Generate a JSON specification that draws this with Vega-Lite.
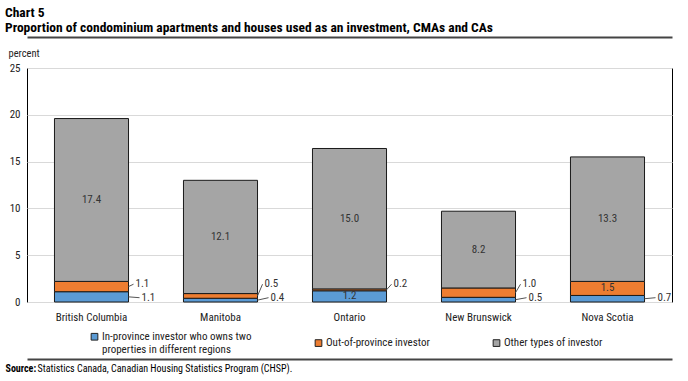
{
  "$schema": "https://vega.github.io/schema/vega-lite/v6.json",
  "width": 645,
  "height": 234,
  "autosize": "none",
  "padding": {"left": 27, "top": 68, "right": 16, "bottom": 79},
  "background": "white",
  "config": {
    "font": "Liberation Sans Narrow, Roboto Condensed, DejaVu Sans Condensed, sans-serif",
    "view": {"stroke": "#000", "strokeWidth": 1}
  },
  "title": {
    "text": ["Chart 5", "Proportion of condominium apartments and houses used as an investment, CMAs and CAs"],
    "anchor": "start",
    "frame": "group",
    "dx": -22,
    "offset": 3,
    "fontSize": 13.5,
    "fontWeight": "bold",
    "lineHeight": 15,
    "color": "#000"
  },
  "data": {
    "values": [
      {"province": "British Columbia", "investor": "In-province investor who owns two properties in different regions", "value": 1.1},
      {"province": "British Columbia", "investor": "Out-of-province investor", "value": 1.1},
      {"province": "British Columbia", "investor": "Other types of investor", "value": 17.4},
      {"province": "Manitoba", "investor": "In-province investor who owns two properties in different regions", "value": 0.4},
      {"province": "Manitoba", "investor": "Out-of-province investor", "value": 0.5},
      {"province": "Manitoba", "investor": "Other types of investor", "value": 12.1},
      {"province": "Ontario", "investor": "In-province investor who owns two properties in different regions", "value": 1.2},
      {"province": "Ontario", "investor": "Out-of-province investor", "value": 0.2},
      {"province": "Ontario", "investor": "Other types of investor", "value": 15.0},
      {"province": "New Brunswick", "investor": "In-province investor who owns two properties in different regions", "value": 0.5},
      {"province": "New Brunswick", "investor": "Out-of-province investor", "value": 1.0},
      {"province": "New Brunswick", "investor": "Other types of investor", "value": 8.2},
      {"province": "Nova Scotia", "investor": "In-province investor who owns two properties in different regions", "value": 0.7},
      {"province": "Nova Scotia", "investor": "Out-of-province investor", "value": 1.5},
      {"province": "Nova Scotia", "investor": "Other types of investor", "value": 13.3}
    ]
  },
  "transform": [
    {"calculate": "indexof(['In-province investor who owns two properties in different regions','Out-of-province investor','Other types of investor'], datum.investor)", "as": "ord"},
    {"stack": "value", "groupby": ["province"], "sort": [{"field": "ord", "order": "ascending"}], "as": ["y0", "y1"]},
    {"calculate": "(datum.y0 + datum.y1) / 2", "as": "mid"},
    {"calculate": "datum.value >= 1.2 ? 'in' : 'out'", "as": "place"},
    {"calculate": "datum.ord == 0 ? 0.46 : 1.9", "as": "outY"}
  ],
  "resolve": {"axis": {"x": "independent"}},
  "layer": [
    {
      "mark": {"type": "bar", "stroke": "#1a1a1a", "strokeWidth": 1},
      "encoding": {
        "x": {
          "field": "province", "type": "nominal",
          "sort": ["British Columbia", "Manitoba", "Ontario", "New Brunswick", "Nova Scotia"],
          "scale": {"paddingInner": 0.426, "paddingOuter": 0.213},
          "axis": {
            "orient": "bottom", "offset": 57, "labels": false, "ticks": false, "grid": false,
            "domain": true, "domainColor": "#444", "domainWidth": 2,
            "title": "Statistics Canada, Canadian Housing Statistics Program (CHSP).",
            "titleFontWeight": "normal", "titleFontSize": 10, "titleColor": "#000",
            "titleX": 10, "titleY": 12, "titleAlign": "left", "titleBaseline": "alphabetic", "titleAnchor": null
          }
        },
        "y": {
          "field": "y0", "type": "quantitative",
          "scale": {"domain": [0, 25], "nice": false},
          "axis": {
            "values": [0, 5, 10, 15, 20, 25], "domain": false, "ticks": false,
            "grid": true, "gridColor": "#d9d9d9", "gridWidth": 1,
            "labelFontSize": 11, "labelColor": "#222", "labelPadding": 7,
            "title": "percent", "titleAngle": 0, "titleFontSize": 10.5, "titleFontWeight": "normal", "titleColor": "#222",
            "titleX": -19, "titleY": -12, "titleAlign": "left", "titleBaseline": "alphabetic"
          }
        },
        "y2": {"field": "y1"},
        "color": {
          "field": "investor", "type": "nominal",
          "scale": {
            "domain": ["In-province investor who owns two properties in different regions", "Out-of-province investor", "Other types of investor"],
            "range": ["#5b9bd5", "#ed7d31", "#a5a5a5"]
          },
          "legend": {
            "orient": "none", "legendX": 62, "legendY": 263,
            "direction": "horizontal", "columns": 3, "columnPadding": 61,
            "title": null, "symbolType": "square", "symbolSize": 45,
            "symbolStrokeColor": "#222", "symbolStrokeWidth": 1,
            "labelFontSize": 11, "labelColor": "#222", "labelOffset": 2, "labelLimit": 300,
            "labelBaseline": "top",
            "labelExpr": "datum.label == 'In-province investor who owns two properties in different regions' ? ['In-province investor who owns two', 'properties in different regions'] : datum.label",
            "encode": {"labels": {"update": {"dy": {"value": -6}}}}
          }
        },
        "order": {"field": "ord"}
      }
    },
    {
      "transform": [{"filter": "datum.place == 'in'"}],
      "mark": {"type": "text", "fontSize": 11, "color": "#333", "baseline": "middle"},
      "encoding": {
        "x": {
          "field": "province", "type": "nominal",
          "sort": ["British Columbia", "Manitoba", "Ontario", "New Brunswick", "Nova Scotia"],
          "axis": {
            "orient": "bottom", "labelAngle": 0, "ticks": false, "domain": false, "grid": false,
            "labelFontSize": 11, "labelColor": "#222", "labelPadding": 9,
            "title": "Source:", "titleFontWeight": "bold", "titleFontSize": 10, "titleColor": "#000",
            "titleX": -22, "titleY": 69, "titleAlign": "left", "titleBaseline": "alphabetic", "titleAnchor": null
          }
        },
        "y": {"field": "mid", "type": "quantitative"},
        "text": {"field": "value", "type": "quantitative", "format": ".1f"}
      }
    },
    {
      "transform": [{"filter": "datum.place == 'out' && datum.ord == 1"}],
      "mark": {"type": "text", "fontSize": 11, "color": "#333", "baseline": "middle", "align": "left", "dx": 7},
      "encoding": {
        "x": {
          "field": "province", "type": "nominal", "bandPosition": 1,
          "sort": ["British Columbia", "Manitoba", "Ontario", "New Brunswick", "Nova Scotia"],
          "axis": {
            "orient": "top", "offset": 31, "labels": false, "ticks": false, "grid": false,
            "domain": true, "domainColor": "#444", "domainWidth": 2, "title": null
          }
        },
        "y": {"field": "outY", "type": "quantitative"},
        "text": {"field": "value", "type": "quantitative", "format": ".1f"}
      }
    },
    {
      "transform": [{"filter": "datum.place == 'out' && datum.ord == 0"}],
      "mark": {"type": "text", "fontSize": 11, "color": "#333", "baseline": "middle", "align": "left", "dx": 13},
      "encoding": {
        "x": {
          "field": "province", "type": "nominal", "bandPosition": 1,
          "sort": ["British Columbia", "Manitoba", "Ontario", "New Brunswick", "Nova Scotia"],
          "axis": null
        },
        "y": {"field": "outY", "type": "quantitative"},
        "text": {"field": "value", "type": "quantitative", "format": ".1f"}
      }
    },
    {
      "transform": [{"filter": "datum.place == 'out' && datum.ord == 1"}],
      "mark": {"type": "rule", "color": "#555", "strokeWidth": 1, "x2Offset": 5},
      "encoding": {
        "x": {
          "field": "province", "type": "nominal", "bandPosition": 1,
          "sort": ["British Columbia", "Manitoba", "Ontario", "New Brunswick", "Nova Scotia"],
          "axis": null
        },
        "x2": {"field": "province", "bandPosition": 1},
        "y": {"field": "mid", "type": "quantitative"},
        "y2": {"field": "outY"}
      }
    },
    {
      "transform": [{"filter": "datum.place == 'out' && datum.ord == 0"}],
      "mark": {"type": "rule", "color": "#555", "strokeWidth": 1, "x2Offset": 11},
      "encoding": {
        "x": {
          "field": "province", "type": "nominal", "bandPosition": 1,
          "sort": ["British Columbia", "Manitoba", "Ontario", "New Brunswick", "Nova Scotia"],
          "axis": null
        },
        "x2": {"field": "province", "bandPosition": 1},
        "y": {"field": "mid", "type": "quantitative"},
        "y2": {"field": "outY"}
      }
    }
  ]
}
